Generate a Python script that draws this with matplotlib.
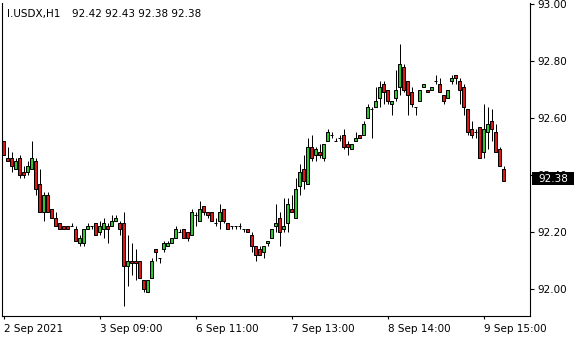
import numpy as np
import matplotlib
matplotlib.use('Agg')
import matplotlib.pyplot as plt
from matplotlib.patches import Rectangle
from matplotlib.transforms import blended_transform_factory

''' Data (I.USDX H1 bars, read off the chart) '''
opens = [92.52, 92.46, 92.46, 92.42, 92.46, 92.41, 92.41, 92.42, 92.45, 92.37,
         92.27, 92.33, 92.28, 92.25, 92.23, 92.22, 92.22, 92.22, 92.21, 92.16,
         92.16, 92.21, 92.22, 92.23, 92.20, 92.21, 92.22, 92.22, 92.24, 92.23,
         92.23, 92.08, 92.10, 92.10, 92.10, 92.03, 91.99, 92.04, 92.14, 92.11,
         92.14, 92.15, 92.16, 92.18, 92.20, 92.21, 92.20, 92.19, 92.26, 92.24,
         92.29, 92.27, 92.27, 92.23, 92.24, 92.28, 92.23, 92.22, 92.22, 92.22,
         92.21, 92.21, 92.19, 92.15, 92.14, 92.13, 92.16, 92.18, 92.22, 92.25,
         92.21, 92.23, 92.28, 92.25, 92.36, 92.42, 92.37, 92.50, 92.47, 92.48,
         92.46, 92.52, 92.54, 92.52, 92.53, 92.54, 92.51, 92.49, 92.52, 92.54,
         92.54, 92.60, 92.63, 92.64, 92.67, 92.72, 92.70, 92.65, 92.67, 92.71,
         92.78, 92.73, 92.69, 92.64, 92.66, 92.71, 92.70, 92.70, 92.73, 92.72,
         92.68, 92.67, 92.73, 92.75, 92.73, 92.71, 92.63, 92.56, 92.55, 92.57,
         92.48, 92.55, 92.59, 92.55, 92.49, 92.42]
highs = [92.52, 92.50, 92.48, 92.46, 92.47, 92.43, 92.45, 92.52, 92.46, 92.42,
         92.34, 92.34, 92.28, 92.27, 92.23, 92.22, 92.22, 92.23, 92.22, 92.19,
         92.21, 92.23, 92.22, 92.23, 92.24, 92.25, 92.23, 92.26, 92.26, 92.24,
         92.27, 92.19, 92.16, 92.14, 92.10, 92.03, 92.03, 92.11, 92.14, 92.11,
         92.17, 92.17, 92.18, 92.22, 92.21, 92.21, 92.20, 92.28, 92.27, 92.31,
         92.29, 92.27, 92.27, 92.25, 92.30, 92.28, 92.23, 92.22, 92.22, 92.23,
         92.21, 92.21, 92.20, 92.15, 92.15, 92.15, 92.17, 92.21, 92.30, 92.27,
         92.32, 92.32, 92.33, 92.39, 92.44, 92.47, 92.53, 92.54, 92.50, 92.51,
         92.51, 92.56, 92.55, 92.53, 92.54, 92.56, 92.52, 92.51, 92.55, 92.54,
         92.59, 92.65, 92.64, 92.71, 92.73, 92.73, 92.70, 92.66, 92.77, 92.86,
         92.79, 92.73, 92.71, 92.64, 92.70, 92.72, 92.70, 92.71, 92.75, 92.74,
         92.68, 92.70, 92.75, 92.75, 92.74, 92.72, 92.63, 92.59, 92.56, 92.57,
         92.65, 92.64, 92.63, 92.58, 92.50, 92.43]
lows = [92.47, 92.45, 92.41, 92.42, 92.39, 92.39, 92.40, 92.42, 92.33, 92.27,
        92.24, 92.27, 92.25, 92.22, 92.21, 92.21, 92.21, 92.22, 92.17, 92.15,
        92.15, 92.21, 92.21, 92.19, 92.19, 92.18, 92.16, 92.22, 92.24, 92.19,
        91.94, 92.01, 92.05, 92.03, 92.04, 91.99, 91.99, 92.04, 92.10, 92.09,
        92.13, 92.15, 92.16, 92.18, 92.20, 92.18, 92.17, 92.19, 92.22, 92.24,
        92.26, 92.25, 92.24, 92.22, 92.21, 92.23, 92.21, 92.21, 92.21, 92.21,
        92.20, 92.20, 92.13, 92.10, 92.12, 92.11, 92.15, 92.18, 92.20, 92.15,
        92.20, 92.20, 92.27, 92.25, 92.33, 92.35, 92.37, 92.45, 92.45, 92.46,
        92.45, 92.52, 92.53, 92.52, 92.52, 92.49, 92.47, 92.49, 92.52, 92.53,
        92.54, 92.60, 92.53, 92.64, 92.64, 92.65, 92.65, 92.61, 92.66, 92.68,
        92.69, 92.61, 92.64, 92.61, 92.66, 92.71, 92.69, 92.70, 92.72, 92.69,
        92.65, 92.67, 92.72, 92.72, 92.65, 92.61, 92.54, 92.53, 92.53, 92.46,
        92.46, 92.49, 92.52, 92.48, 92.43, 92.38]
closes = [92.47, 92.45, 92.43, 92.45, 92.40, 92.40, 92.43, 92.46, 92.35, 92.27,
          92.33, 92.27, 92.25, 92.22, 92.21, 92.21, 92.21, 92.22, 92.17, 92.18,
          92.21, 92.22, 92.22, 92.19, 92.22, 92.23, 92.21, 92.24, 92.25, 92.21,
          92.08, 92.10, 92.09, 92.09, 92.04, 92.00, 92.03, 92.10, 92.13, 92.11,
          92.16, 92.16, 92.18, 92.21, 92.20, 92.18, 92.18, 92.27, 92.26, 92.28,
          92.27, 92.26, 92.24, 92.23, 92.27, 92.24, 92.21, 92.22, 92.22, 92.22,
          92.21, 92.20, 92.15, 92.12, 92.12, 92.15, 92.17, 92.21, 92.23, 92.20,
          92.22, 92.30, 92.27, 92.35, 92.41, 92.38, 92.50, 92.46, 92.49, 92.47,
          92.51, 92.55, 92.54, 92.52, 92.53, 92.50, 92.50, 92.51, 92.53, 92.53,
          92.58, 92.64, 92.63, 92.66, 92.71, 92.69, 92.66, 92.66, 92.70, 92.79,
          92.70, 92.68, 92.65, 92.64, 92.70, 92.72, 92.69, 92.71, 92.73, 92.69,
          92.66, 92.70, 92.74, 92.74, 92.70, 92.64, 92.55, 92.54, 92.55, 92.46,
          92.56, 92.58, 92.56, 92.48, 92.43, 92.38]

tickBars = [0, 24, 48, 72, 96, 120]
tickLabels = ['2 Sep 2021', '3 Sep 09:00', '6 Sep 11:00', '7 Sep 13:00', '8 Sep 14:00', '9 Sep 15:00']
priceTicks = [92.0, 92.2, 92.4, 92.6, 92.8, 93.0]
symbolName = 'I.USDX,H1'

o = np.array(opens); h = np.array(highs); l = np.array(lows); c = np.array(closes)
bars = np.arange(len(o))

''' Plot '''
fig = plt.figure(figsize=(5.8, 3.4), dpi=100)
ax = fig.add_axes([2.3/580, 1-316/340, (530-2.3)/580, 313/340])

upColor = '#2fc72f'
downColor = '#dd1616'
lw = 0.72   # one pixel at 100 dpi

ax.vlines(bars, l, h, color='black', linewidth=lw, zorder=1)

up = c > o
down = c < o
flat = c == o
ax.bar(bars[up], (c-o)[up], bottom=o[up], width=0.55, color=upColor,
       edgecolor='black', linewidth=lw, zorder=2)
ax.bar(bars[down], (o-c)[down], bottom=c[down], width=0.55, color=downColor,
       edgecolor='black', linewidth=lw, zorder=2)
ax.hlines(o[flat], bars[flat]-0.35, bars[flat]+0.35, color='black',
          linewidth=lw, zorder=2)

ax.set_xlim(-0.3, 131.6)
ax.set_ylim(91.9053, 93.0035)

ax.spines['top'].set_visible(False)
for s in ['left', 'right', 'bottom']:
    ax.spines[s].set_linewidth(0.8)
    ax.spines[s].set_color('black')

ax.yaxis.tick_right()
ax.set_yticks(priceTicks)
ax.set_yticklabels(['%.2f' % p for p in priceTicks])
ax.tick_params(axis='y', direction='out', length=3, width=0.8, pad=2.5, labelsize=7.5)

ax.set_xticks(tickBars)
ax.set_xticklabels(tickLabels, ha='left')
ax.tick_params(axis='x', direction='out', length=2.5, width=0.8, pad=3, labelsize=7.5)

''' Header and last price tag '''
fig.text(7/580, 1-17/340, symbolName, fontsize=7.5, va='baseline', ha='left')
fig.text(72/580, 1-17/340, '%.2f %.2f %.2f %.2f' % (o[-1], h[-1], l[-1], c[-1]),
         fontsize=7.5, va='baseline', ha='left')

trans = blended_transform_factory(ax.transAxes, ax.transData)
ax.add_patch(Rectangle((1.0038, c[-1] - 0.015), 0.0796, 0.0456, transform=trans,
                       facecolor='black', edgecolor='none', clip_on=False, zorder=5))
ax.text(1.0436, c[-1] + 0.0077, '%.2f' % c[-1], transform=trans, fontsize=7.5,
        color='white', va='center', ha='center', clip_on=False, zorder=6)

fig.savefig('out.png', dpi=100)
